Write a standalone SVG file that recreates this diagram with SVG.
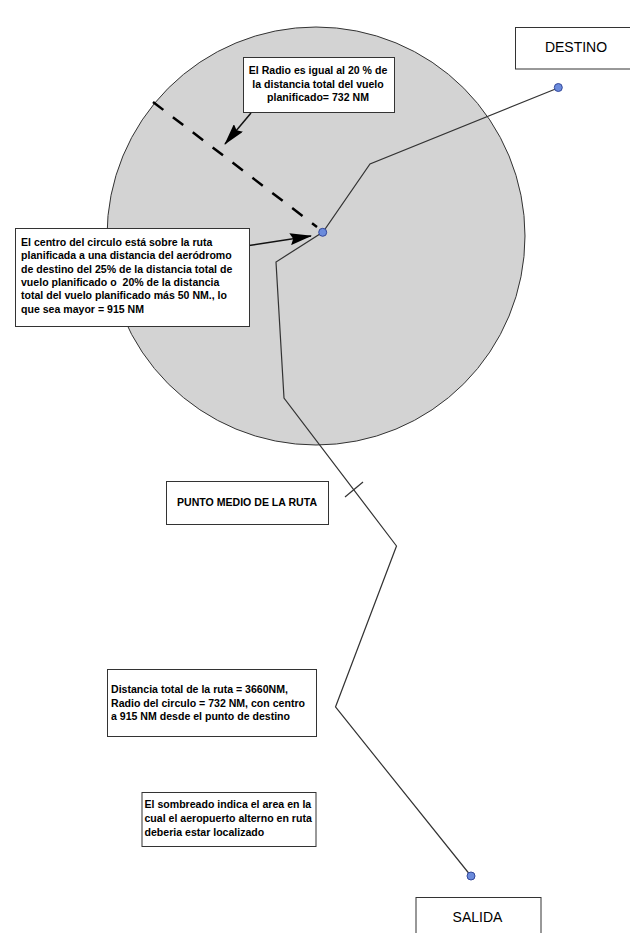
<svg xmlns="http://www.w3.org/2000/svg" width="630" height="933" viewBox="0 0 630 933">
<style>
.box{fill:#fff;stroke:#333;stroke-width:1}
.t{font-family:"Liberation Sans",Arial,sans-serif;font-weight:bold;font-size:11.5px;fill:#000}
.tc{font-family:"Liberation Sans",Arial,sans-serif;font-weight:bold;font-size:11.5px;fill:#000;text-anchor:middle}
.big{font-family:"Liberation Sans",Arial,sans-serif;font-size:14px;fill:#000;text-anchor:middle}
.route{fill:none;stroke:#333;stroke-width:1.2;stroke-linejoin:miter}
.dot{fill:#6b8bdc;stroke:#34489a;stroke-width:1}
.arrow{fill:none;stroke:#111;stroke-width:1.5}
</style>
<defs>
<marker id="ah" markerUnits="userSpaceOnUse" markerWidth="22" markerHeight="12" refX="21" refY="6" orient="auto">
<path d="M0,0 L22,6 L0,12 L3,6 z" fill="#000"/>
</marker>
</defs>
<rect width="630" height="933" fill="#fff"/>

<g id="area">
<circle cx="316" cy="236" r="209" fill="#d3d3d3" stroke="#333" stroke-width="1"/>
</g>

<g id="connectors">
<polyline class="route" points="558,88 370,164 323,232 276,262 284,398 396.5,546 335.5,707 471,876"/>
<line x1="153" y1="102" x2="317" y2="227" stroke="#000" stroke-width="2.5" stroke-dasharray="13,12"/>
<line x1="345" y1="497" x2="363" y2="482" stroke="#333" stroke-width="1.2"/>
<line class="arrow" x1="251" y1="113" x2="225" y2="144" marker-end="url(#ah)"/>
<line class="arrow" x1="249" y1="245.5" x2="311" y2="236" marker-end="url(#ah)"/>
</g>

<g id="dest-dot"><circle class="dot" cx="558.3" cy="87.5" r="4"/></g>
<g id="center-dot"><circle class="dot" cx="322.7" cy="232.3" r="4"/></g>
<g id="dep-dot"><circle class="dot" cx="471" cy="876" r="4"/></g>

<g id="destino">
<rect class="box" x="515.5" y="27.5" width="130" height="41.5"/>
<text class="big" x="576" y="52">DESTINO</text>
</g>

<g id="radio-note">
<rect class="box" x="243.5" y="57.5" width="151" height="55"/>
<g transform="translate(318,0) scale(0.92,1)">
<text class="tc" x="0" y="74">El Radio es igual al 20 % de</text>
<text class="tc" x="0" y="88">la distancia total del vuelo</text>
<text class="tc" x="0" y="101.5">planificado= 732 NM</text>
</g>
</g>

<g id="center-note">
<rect class="box" x="15.5" y="228.5" width="234" height="98"/>
<g transform="translate(21,0) scale(0.92,1)">
<text class="t" x="0" y="246">El centro del circulo está sobre la ruta</text>
<text class="t" x="0" y="259.5">planificada a una distancia del aeródromo</text>
<text class="t" x="0" y="273">de destino del 25% de la distancia total de</text>
<text class="t" x="0" y="286">vuelo planificado o &#160;20% de la distancia</text>
<text class="t" x="0" y="299.5">total del vuelo planificado más 50 NM., lo</text>
<text class="t" x="0" y="313">que sea mayor = 915 NM</text>
</g>
</g>

<g id="midpoint">
<rect class="box" x="166.5" y="481.5" width="162" height="43"/>
<g transform="translate(247,0) scale(0.92,1)">
<text class="tc" x="0" y="506">PUNTO MEDIO DE LA RUTA</text>
</g>
</g>

<g id="distance-note">
<rect class="box" x="107.5" y="669.5" width="209" height="67"/>
<g transform="translate(111,0) scale(0.92,1)">
<text class="t" x="0" y="693">Distancia total de la ruta = 3660NM,</text>
<text class="t" x="0" y="706.7">Radio del circulo = 732 NM, con centro</text>
<text class="t" x="0" y="720">a 915 NM desde el punto de destino</text>
</g>
</g>

<g id="shade-note">
<rect class="box" x="142" y="792.5" width="174" height="54"/>
<g transform="translate(144.5,0) scale(0.92,1)">
<text class="t" x="0" y="808.5">El sombreado indica el area en la</text>
<text class="t" x="0" y="822">cual el aeropuerto alterno en ruta</text>
<text class="t" x="0" y="835.7">deberia estar localizado</text>
</g>
</g>

<g id="salida">
<rect class="box" x="416" y="897.5" width="125" height="45"/>
<text class="big" x="477.5" y="922">SALIDA</text>
</g>
</svg>
